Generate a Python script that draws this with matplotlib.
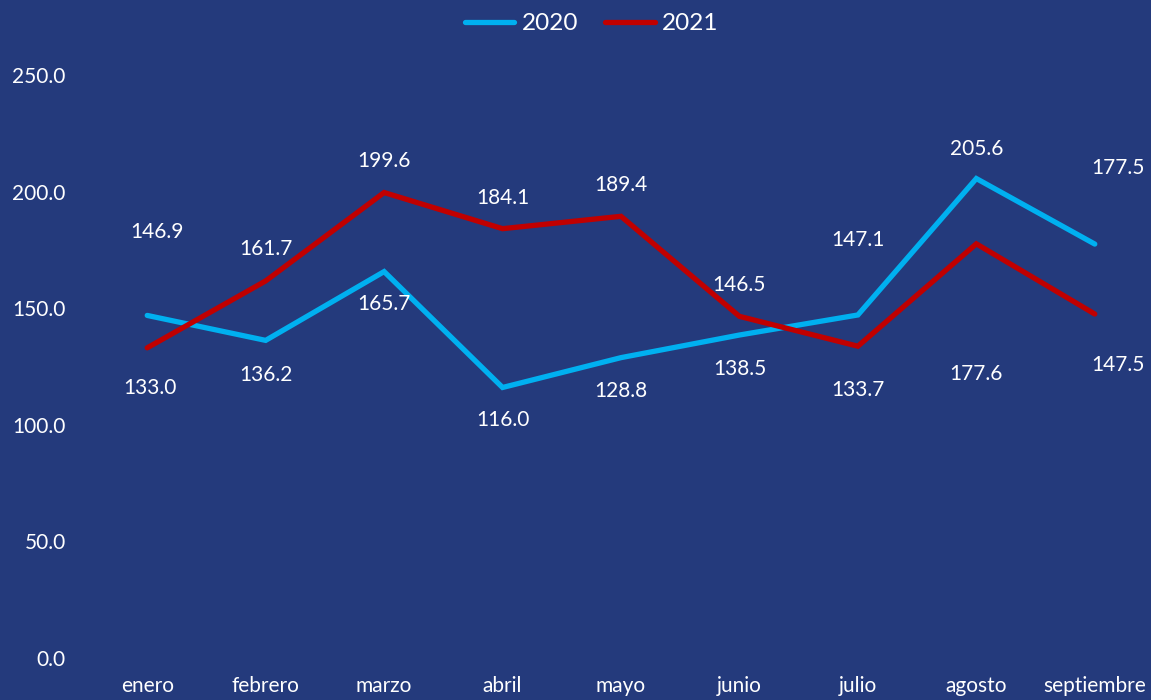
import matplotlib.pyplot as plt

months = ["enero", "febrero", "marzo", "abril", "mayo", "junio", "julio", "agosto", "septiembre"]
v2020 = [146.9, 136.2, 165.7, 116.0, 128.8, 138.5, 147.1, 205.6, 177.5]
v2021 = [133.0, 161.7, 199.6, 184.1, 189.4, 146.5, 133.7, 177.6, 147.5]
yticks = [0, 50, 100, 150, 200, 250]

# label offsets in pixels (dx, dy)
off2020 = [(10, 83), (0, -35), (0, -32), (0, -33), (0, -33), (0, -34), (0, 75), (0, 30), (23, 76)]
off2021 = [(3, -40), (0, 32), (0, 32), (0, 31), (0, 31), (0, 31), (0, -44), (0, -130), (23, -51)]

bg = "#243a7c"
c2020 = "#00b0f0"
c2021 = "#c00000"

plt.rcParams["font.family"] = ["Lato", "DejaVu Sans"]

fig = plt.figure(figsize=(11.51, 7), dpi=100, facecolor=bg)
ax = fig.add_axes([88/1151, 42/700, (1154-88)/1151, (658-75)/700])
ax.set_facecolor(bg)

x = range(len(months))
ax.plot(x, v2020, color=c2020, lw=3.8, solid_capstyle="round", solid_joinstyle="miter", label="2020", clip_on=False)
ax.plot(x, v2021, color=c2021, lw=3.8, solid_capstyle="round", solid_joinstyle="miter", label="2021", clip_on=False)

for vals, offs in [(v2020, off2020), (v2021, off2021)]:
    for i, v in enumerate(vals):
        ax.annotate(f"{v:.1f}", (i, v), xytext=offs[i], textcoords="offset pixels",
                    ha="center", va="center", color="white", fontsize=15)

ax.set_xlim(-0.5, len(months) - 0.5)
ax.set_ylim(0, 250)
ax.set_xticks(list(x))
ax.set_xticklabels(months)
ax.set_yticks(yticks)
ax.set_yticklabels([f"{t:.1f}" for t in yticks])
ax.tick_params(colors="white", labelsize=15, length=0)
ax.tick_params(axis="y", pad=16)
ax.tick_params(axis="x", pad=13)
for s in ax.spines.values():
    s.set_visible(False)

leg = fig.legend(loc="upper center", bbox_to_anchor=(0.514, 1.012), ncol=2, frameon=False,
                 fontsize=17.5, labelcolor="white", handlelength=2.05, handletextpad=0.3,
                 columnspacing=1.1)

fig.savefig("out.png", dpi=100, facecolor=bg)
